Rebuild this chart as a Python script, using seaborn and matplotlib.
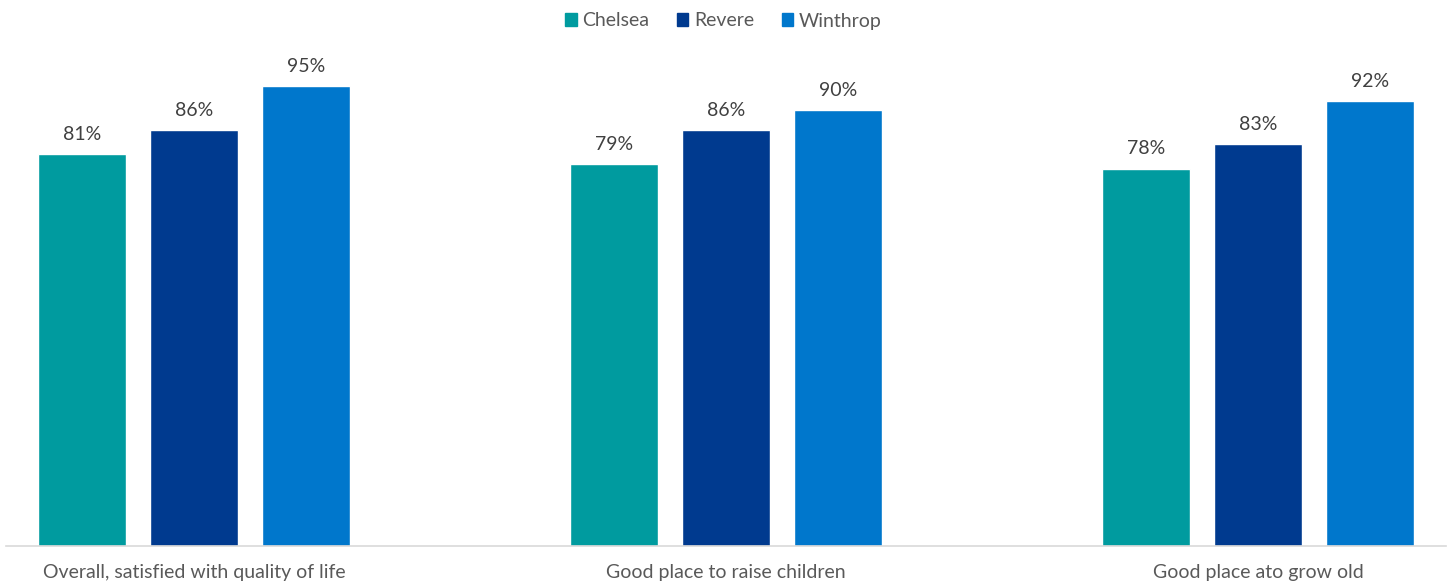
import matplotlib
matplotlib.use("Agg")
import matplotlib.pyplot as plt
import seaborn as sns
import pandas as pd

categories = ["Overall, satisfied with quality of life", "Good place to raise children", "Good place ato grow old"]
cities = ["Chelsea", "Revere", "Winthrop"]
chelsea = [81, 79, 78]
revere = [86, 86, 83]
winthrop = [95, 90, 92]
colors = ["#009B9F", "#003A8F", "#0077CC"]

rows = []
for city, vals in zip(cities, [chelsea, revere, winthrop]):
    for cat, v in zip(categories, vals):
        rows.append({"category": cat, "city": city, "value": v})
df = pd.DataFrame(rows)

sns.set_theme(style="white")
plt.rcParams["font.family"] = ["Lato", "DejaVu Sans"]

fig = plt.figure(figsize=(14.47, 5.84), dpi=100)
ax = fig.add_axes([6 / 1447, 38 / 584, 1440 / 1447, 482 / 584])

sns.barplot(data=df, x="category", y="value", hue="city", order=categories,
            hue_order=cities, palette=colors, width=0.631, gap=0.214,
            saturation=1, ax=ax, legend=True, errorbar=None)

for cont in ax.containers:
    ax.bar_label(cont, labels=[f"{int(round(b.get_height()))}%" for b in cont],
                 padding=8, fontsize=14, color="#404040")

ax.set_xlim(-0.353, 2.353)
ax.set_ylim(0, 99.6)
ax.set_xlabel("")
ax.set_ylabel("")
ax.set_yticks([])
for s in ["top", "right", "left"]:
    ax.spines[s].set_visible(False)
ax.spines["bottom"].set_color("#D9D9D9")
ax.spines["bottom"].set_linewidth(1.2)
ax.tick_params(axis="x", length=0, pad=13, labelsize=14, labelcolor="#595959")

ax.legend_.remove()
handles = [plt.Rectangle((0, 0), 1, 1, color=c) for c in colors]
fig.legend(handles, cities, loc="center", bbox_to_anchor=(0.5, 1 - 21 / 584),
           ncol=3, frameon=False, fontsize=14, labelcolor="#595959",
           handlelength=0.6, handleheight=0.6, handletextpad=0.3, columnspacing=1.4)

fig.savefig("out.png", dpi=100)
